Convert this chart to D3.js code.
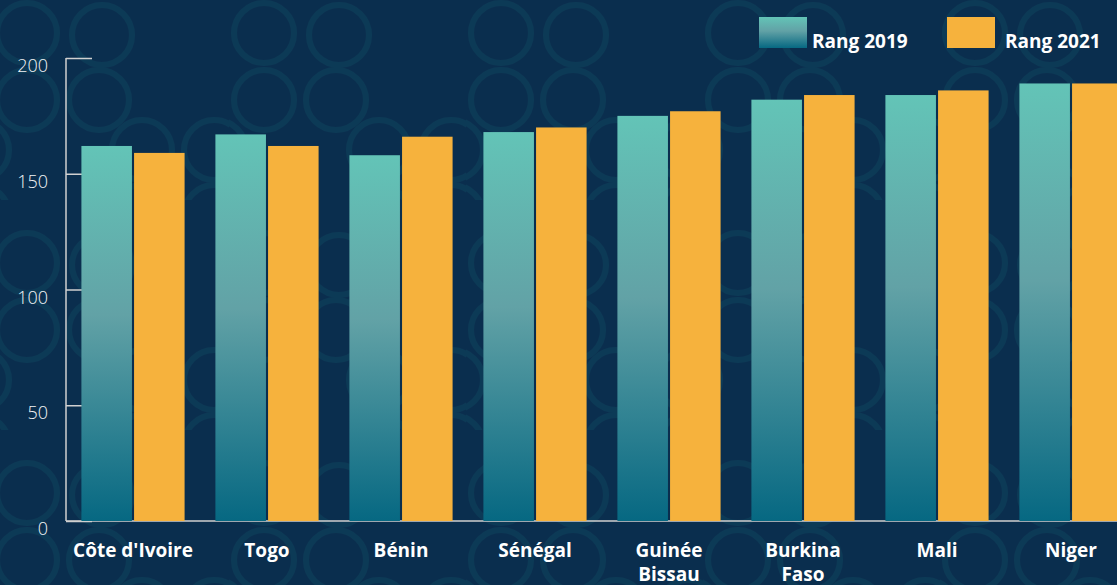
<!DOCTYPE html>
<html>
<head>
<meta charset="utf-8">
<script src="https://cdn.jsdelivr.net/npm/d3@7"></script>
<style>
  html, body { margin: 0; padding: 0; background: #0a2e4e; overflow: hidden; }
  svg { display: block; }
</style>
</head>
<body>
<div id="chart"></div>
<script>
var width = 1117;
var height = 585;

var countries = ["Côte d'Ivoire", "Togo", "Bénin", "Sénégal", "Guinée Bissau", "Burkina Faso", "Mali", "Niger"];
var countryLines = [["Côte d'Ivoire"], ["Togo"], ["Bénin"], ["Sénégal"], ["Guinée", "Bissau"], ["Burkina", "Faso"], ["Mali"], ["Niger"]];
var years = ["Rang 2019", "Rang 2021"];
var rang2019 = [162, 167, 158, 168, 175, 182, 184, 189];
var rang2021 = [159, 162, 166, 170, 177, 184, 186, 189];
var yTicks = [0, 50, 100, 150, 200];

var bgColor = "#0a2e4e";
var patternColor = "#0c3a56";
var color2021 = "#f6b23d";

var svg = d3.select("#chart").append("svg")
	.attr("width", width)
	.attr("height", height);

var defs = svg.append("defs");

// gradient for 2019 bars
var grad = defs.append("linearGradient")
	.attr("id", "grad2019")
	.attr("x1", 0).attr("y1", 0).attr("x2", 0).attr("y2", 1);
grad.append("stop").attr("offset", "0%").attr("stop-color", "#63c4b7");
grad.append("stop").attr("offset", "45%").attr("stop-color", "#62a2a6");
grad.append("stop").attr("offset", "100%").attr("stop-color", "#066882");

// decorative background rings
var pat = defs.append("pattern")
	.attr("id", "bgpat")
	.attr("patternUnits", "userSpaceOnUse")
	.attr("width", 237)
	.attr("height", 230)
	.attr("x", -8)
	.attr("y", -30);
pat.append("rect").attr("width", 237).attr("height", 230).attr("fill", bgColor);
var ringPos = [[35, 63], [110, 65], [35, 130], [107, 130], [150, 180], [222, 180], [150, 245], [222, 245], [-85, 180], [-13, 180], [-85, 245], [-13, 245], [150, -50], [222, -50], [35, 293], [110, 295]];
pat.selectAll("circle")
	.data(ringPos)
	.enter()
	.append("circle")
	.attr("cx", function(d) { return d[0]; })
	.attr("cy", function(d) { return d[1]; })
	.attr("r", 30)
	.attr("fill", "none")
	.attr("stroke", patternColor)
	.attr("stroke-width", 6);

svg.append("rect")
	.attr("width", width)
	.attr("height", height)
	.attr("fill", "url(#bgpat)");

// scales
var x0 = d3.scaleBand()
	.domain(countries)
	.range([66, 66 + 8 * 134])
	.paddingInner(0.23)
	.paddingOuter(0.115);

var x1 = d3.scaleBand()
	.domain(years)
	.range([0, x0.bandwidth()])
	.paddingInner(0.04);

var y = d3.scaleLinear()
	.domain([0, 200])
	.range([521, 58]);

// y axis
var yAxis = svg.append("g")
	.attr("transform", "translate(66,0)")
	.call(d3.axisRight(y).tickValues(yTicks).tickSize(26).tickFormat(""));
yAxis.select(".domain").remove();
yAxis.selectAll("line").attr("stroke", "#d0d0d0").attr("stroke-width", 1.5);

svg.append("line")
	.attr("x1", 66).attr("x2", 66)
	.attr("y1", y(200)).attr("y2", y(0))
	.attr("stroke", "#d0d0d0")
	.attr("stroke-width", 1.5);

svg.selectAll(".ylab")
	.data(yTicks)
	.enter()
	.append("text")
	.attr("class", "ylab")
	.attr("x", 48)
	.attr("y", function(d) { return y(d) + 14; })
	.attr("text-anchor", "end")
	.attr("font-family", "'Open Sans', 'Noto Sans', sans-serif")
	.attr("font-weight", 300)
	.attr("font-size", 18)
	.attr("fill", "#f2f4f6")
	.text(function(d) { return d; });

// baseline
svg.append("line")
	.attr("x1", 66).attr("x2", width)
	.attr("y1", y(0)).attr("y2", y(0))
	.attr("stroke", "#d0d0d0")
	.attr("stroke-width", 1.5);

// bars
var groups = svg.selectAll(".grp")
	.data(countries)
	.enter()
	.append("g")
	.attr("class", "grp")
	.attr("transform", function(d) { return "translate(" + x0(d) + ",0)"; });

groups.append("rect")
	.attr("x", x1(years[0]))
	.attr("width", x1.bandwidth())
	.attr("y", function(d, i) { return y(rang2019[i]); })
	.attr("height", function(d, i) { return y(0) - y(rang2019[i]); })
	.attr("fill", "url(#grad2019)");

groups.append("rect")
	.attr("x", x1(years[1]))
	.attr("width", x1.bandwidth())
	.attr("y", function(d, i) { return y(rang2021[i]); })
	.attr("height", function(d, i) { return y(0) - y(rang2021[i]); })
	.attr("fill", color2021);

// category labels
var labels = svg.selectAll(".xlab")
	.data(countryLines)
	.enter()
	.append("text")
	.attr("class", "xlab")
	.attr("x", function(d, i) { return x0(countries[i]) + x0.bandwidth() / 2; })
	.attr("y", 557)
	.attr("text-anchor", "middle")
	.attr("font-family", "'Open Sans', 'Noto Sans', sans-serif")
	.attr("font-weight", 700)
	.attr("font-size", 19)
	.attr("fill", "#ffffff");

labels.selectAll("tspan")
	.data(function(d) { return d; })
	.enter()
	.append("tspan")
	.attr("x", function() { return d3.select(this.parentNode).attr("x"); })
	.attr("dy", function(d, i) { return i == 0 ? 0 : 24; })
	.text(function(d) { return d; });

// legend
var legendX = [759, 947];
var legend = svg.selectAll(".leg")
	.data(years)
	.enter()
	.append("g")
	.attr("class", "leg")
	.attr("transform", function(d, i) { return "translate(" + legendX[i] + ",17)"; });

legend.append("rect")
	.attr("width", 48)
	.attr("height", 31)
	.attr("fill", function(d, i) { return i == 0 ? "url(#grad2019)" : color2021; });

legend.append("text")
	.attr("x", function(d, i) { return i == 0 ? 53 : 58; })
	.attr("y", 31)
	.attr("font-family", "'Open Sans', 'Noto Sans', sans-serif")
	.attr("font-weight", 700)
	.attr("font-size", 19)
	.attr("fill", "#ffffff")
	.text(function(d) { return d; });
</script>
</body>
</html>
